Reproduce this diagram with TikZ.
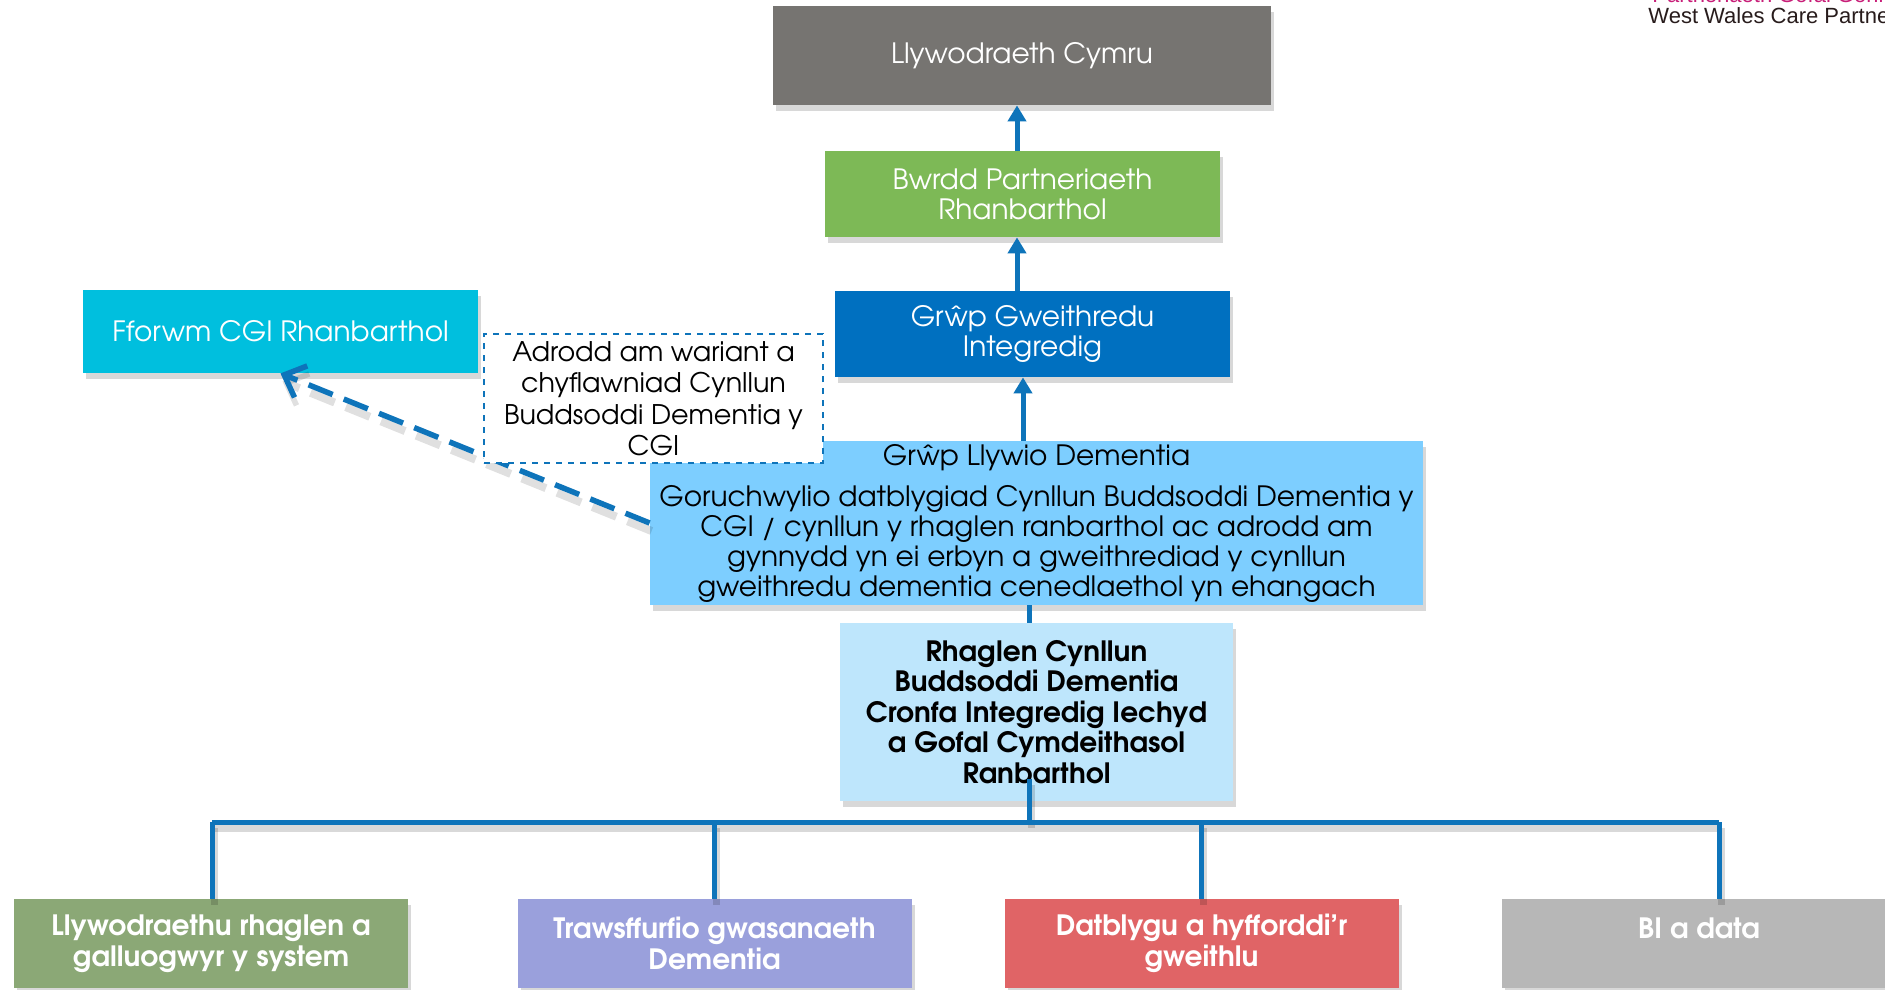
\documentclass[tikz,border=0pt]{standalone}
\usepackage{fontspec}
\setmainfont{TeX Gyre Adventor}
\newfontfamily\logofont{Liberation Sans}
\usetikzlibrary{arrows.meta,shadows}
\definecolor{cgov}{RGB}{118,116,113}
\definecolor{cbwrdd}{RGB}{125,185,86}
\definecolor{cgweith}{RGB}{0,112,192}
\definecolor{cfforwm}{RGB}{0,191,222}
\definecolor{csteer}{RGB}{125,206,255}
\definecolor{cpale}{RGB}{190,230,252}
\definecolor{cgreen}{RGB}{139,168,118}
\definecolor{cpurple}{RGB}{154,160,220}
\definecolor{cred}{RGB}{224,100,102}
\definecolor{cgrey}{RGB}{183,183,183}
\definecolor{cline}{RGB}{14,116,186}
\definecolor{cpink}{RGB}{200,30,120}
\definecolor{clogo}{RGB}{40,28,28}
\tikzset{
  box/.style={rectangle, inner sep=0pt, align=center,
    drop shadow={shadow xshift=1.5pt, shadow yshift=-3pt, opacity=0.3}},
  normtext/.style={font=\fontsize{14}{15}\selectfont},
  boldtext/.style={font=\bfseries\fontsize{14}{15.25}\selectfont},
  conn/.style={draw=cline, line width=2.5pt},
  arr/.style={conn, -{Triangle[length=8pt,width=9pt]}},
  lshadow/.style={preaction={draw=black, opacity=0.15, line width=3.5pt, transform canvas={xshift=1pt,yshift=-3pt}}},
}
\begin{document}
\begin{tikzpicture}[x=0.5pt, y=-0.5pt]
\useasboundingbox (0,0) rectangle (1885,990);
\fill[white] (0,0) rectangle (1885,990);

% logo text (cut at the edges, as in the reference)
\node[anchor=base west, inner sep=0pt, text=cpink, font=\logofont\fontsize{11}{12}\selectfont] (logo1) at (1652,3) {Partneriaeth Gofal Gorllewin};
\node[anchor=base west, inner sep=0pt, text=clogo, font=\logofont\fontsize{11}{12}\selectfont] (logo2) at (1648,24) {West Wales Care Partnership};

% nodes
\node[box, normtext, fill=cgov, text=white, minimum width=498*0.5pt, minimum height=99*0.5pt] (gov) at (1022,55.5) {Llywodraeth Cymru};
\node[box, normtext, fill=cbwrdd, text=white, minimum width=395*0.5pt, minimum height=86*0.5pt] (bwrdd) at (1022.5,194) {Bwrdd Partneriaeth\\Rhanbarthol};
\node[box, normtext, fill=cgweith, text=white, minimum width=395*0.5pt, minimum height=86*0.5pt] (gweith) at (1032.5,334) {Grŵp Gweithredu\\Integredig};
\node[box, normtext, fill=cfforwm, text=white, minimum width=395*0.5pt, minimum height=83*0.5pt] (fforwm) at (280.5,331.5) {Fforwm CGI Rhanbarthol};

\node[box, normtext, fill=csteer, text=black, minimum width=773*0.5pt, minimum height=164*0.5pt] (steer) at (1036.5,523) {Grŵp Llywio Dementia\\[5.5pt]Goruchwylio datblygiad Cynllun Buddsoddi Dementia y\\CGI / cynllun y rhaglen ranbarthol ac adrodd am\\gynnydd yn ei erbyn a gweithrediad y cynllun\\gweithredu dementia cenedlaethol yn ehangach};

% dashed report arrow
\draw[cline, line width=2.75pt, dash pattern=on 13pt off 6pt,
  preaction={draw=black, opacity=0.12, line width=4pt, dash pattern=on 13pt off 6pt, transform canvas={xshift=1pt,yshift=-4pt}},
  -{Straight Barb[length=9pt,width=17pt,line width=2.75pt]}] (steer.west) -- (fforwm.south);

\node[rectangle, inner sep=0pt, align=center, fill=white, draw=cline, dashed, line width=0.6pt, minimum width=339*0.5pt, minimum height=129*0.5pt, font=\fontsize{13.5}{15.75}\selectfont] (note) at (653.5,398.5) {Adrodd am wariant a\\chyflawniad Cynllun\\Buddsoddi Dementia y\\CGI};

\node[box, boldtext, fill=cpale, text=black, minimum width=393*0.5pt, minimum height=178*0.5pt] (pale) at (1036.5,712) {Rhaglen Cynllun\\Buddsoddi Dementia\\Cronfa Integredig Iechyd\\a Gofal Cymdeithasol\\Ranbarthol};

\node[box, boldtext, fill=cgreen, text=white, minimum width=394*0.5pt, minimum height=89*0.5pt] (g1) at (211,943.5) {Llywodraethu rhaglen a\\galluogwyr y system};
\node[box, boldtext, fill=cpurple, text=white, minimum width=394*0.5pt, minimum height=89*0.5pt] (g2) at (714.5,943.5) {Trawsffurfio gwasanaeth\\Dementia};
\node[box, boldtext, fill=cred, text=white, minimum width=394*0.5pt, minimum height=89*0.5pt] (g3) at (1201.5,943.5) {Datblygu a hyfforddi’r\\gweithlu};
\node[box, boldtext, fill=cgrey, text=white, minimum width=394*0.5pt, minimum height=89*0.5pt] (g4) at (1699,943.5) {BI a data\\\mbox{}};

% connectors
\coordinate (xa) at (1017,0);
\coordinate (xb) at (1023,0);
\coordinate (xc) at (1029,0);
\coordinate (busL) at (212,822);
\coordinate (busR) at (1719,822);

\draw[arr] (bwrdd.north -| xa) -- (gov.south -| xa);
\draw[arr] (gweith.north -| xa) -- (bwrdd.south -| xa);
\draw[arr] (steer.north -| xb) -- (gweith.south -| xb);
\draw[conn] (steer.south -| xc) -- (pale.north -| xc);
\path (pale.south -| xc) ++(0,-22) coordinate (pin);
\draw[conn, lshadow] (pin) -- (busL -| xc);
\draw[conn, lshadow] (busL) -- (busR);
\draw[conn, lshadow] (busL) -- (g1.north -| busL);
\draw[conn, lshadow] (g2.north |- busL) -- (g2.north);
\draw[conn, lshadow] (g3.north |- busL) -- (g3.north);
\draw[conn, lshadow] (busR) -- (g4.north -| busR);
\end{tikzpicture}
\end{document}
